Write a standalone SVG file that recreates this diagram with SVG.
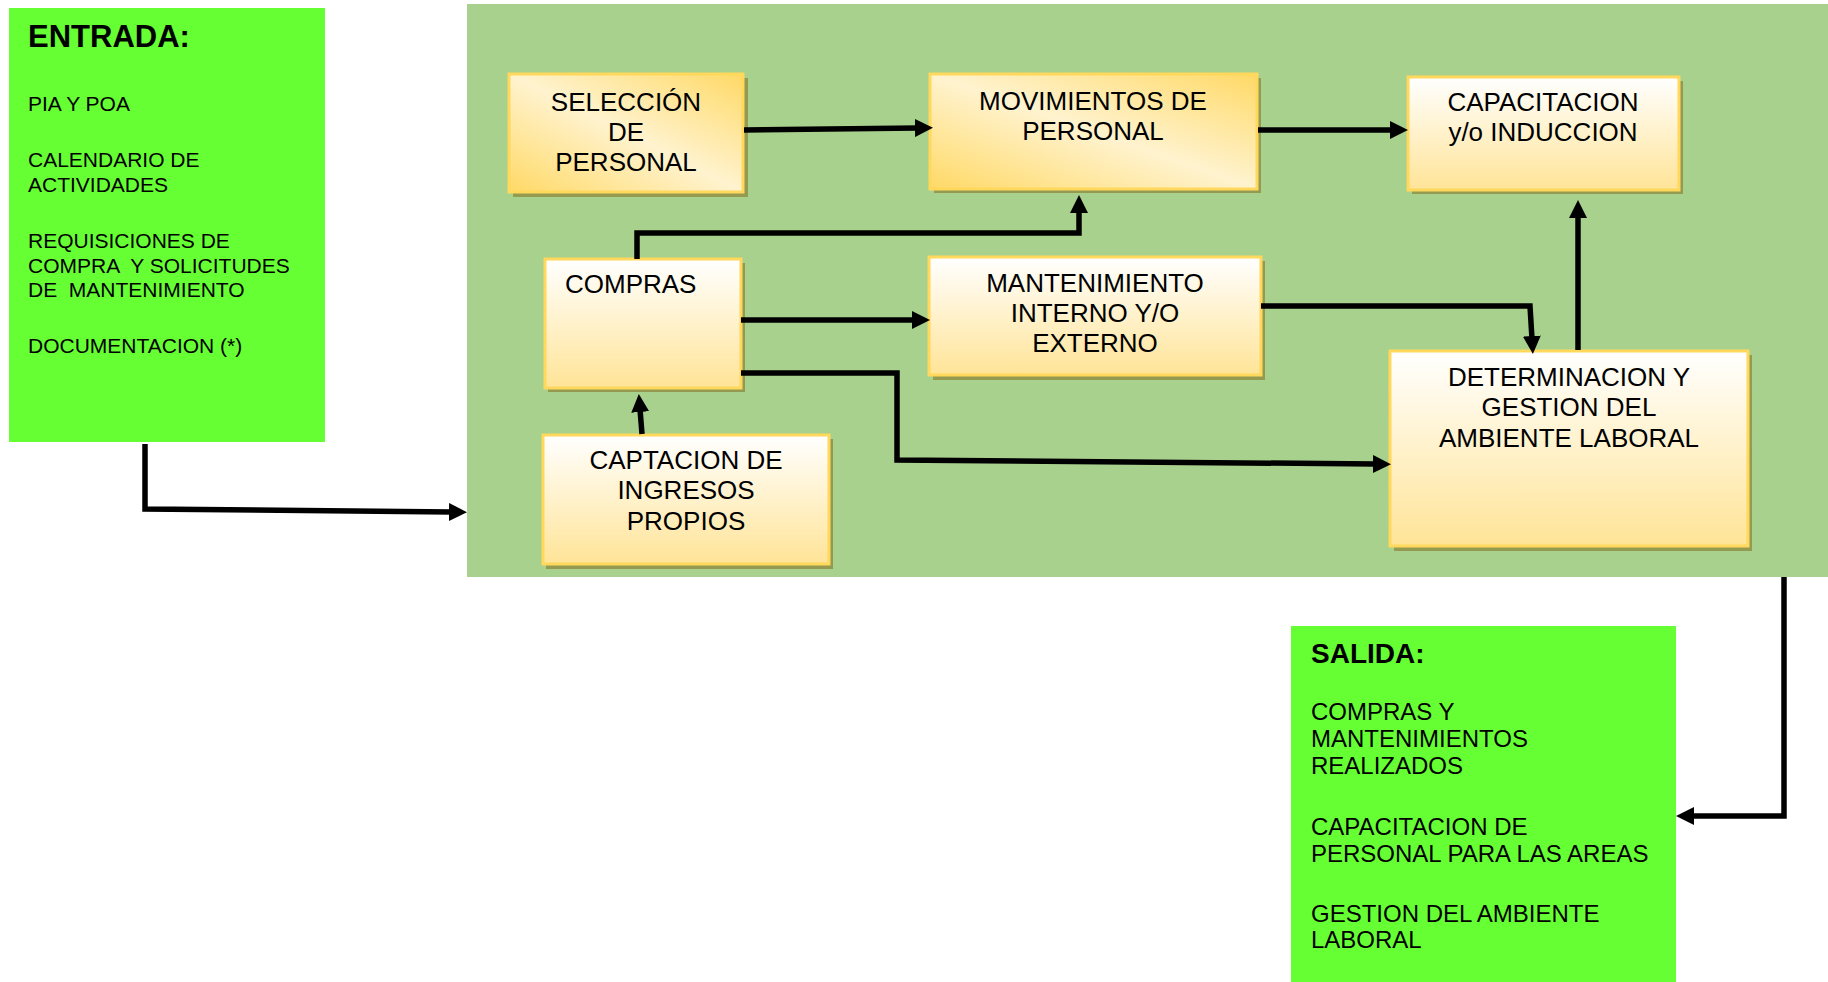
<svg xmlns="http://www.w3.org/2000/svg" width="1828" height="982" viewBox="0 0 1828 982">
<defs>
<linearGradient id="gDiag" x1="0" y1="1" x2="1" y2="0">
<stop offset="0" stop-color="#ffd966"/>
<stop offset="0.5" stop-color="#fff3cf"/>
<stop offset="1" stop-color="#ffd966"/>
</linearGradient>
<linearGradient id="gVert" x1="0" y1="0" x2="0" y2="1">
<stop offset="0" stop-color="#ffffff"/>
<stop offset="1" stop-color="#ffe497"/>
</linearGradient>
<marker id="arr" viewBox="0 0 18 18" markerWidth="18" markerHeight="18" markerUnits="userSpaceOnUse" refX="3" refY="9" orient="auto">
<path d="M0,0 L18,9 L0,18 z" fill="#000"/>
</marker>
</defs>
<style>
.io{fill:#66ff33}
.bg{fill:#a9d18e}
.sh{fill:#949a50}
.bx{stroke:#ffd85c;stroke-width:3}
.d{fill:url(#gDiag)}
.v{fill:url(#gVert)}
.t{font-family:"Liberation Sans",Arial,sans-serif;font-size:26px;fill:#000;text-anchor:middle}
.l{font-family:"Liberation Sans",Arial,sans-serif;font-size:21px;fill:#000;white-space:pre}
.r{font-family:"Liberation Sans",Arial,sans-serif;font-size:24px;fill:#000;white-space:pre}
.h{font-family:"Liberation Sans",Arial,sans-serif;font-weight:bold;fill:#000}
.c{fill:none;stroke:#000;stroke-width:5.5;stroke-linejoin:miter;marker-end:url(#arr)}
</style>
<rect width="1828" height="982" fill="#ffffff"/>
<rect id="proceso" class="bg" x="467" y="4" width="1361" height="573"/>

<g id="entrada">
<rect class="io" x="9" y="8" width="316" height="434"/>
<text class="h" x="28" y="47" font-size="31">ENTRADA:</text>
<text class="l" x="28" y="111">PIA Y POA</text>
<text class="l" x="28" y="167">CALENDARIO DE</text>
<text class="l" x="28" y="192">ACTIVIDADES</text>
<text class="l" x="28" y="248">REQUISICIONES DE</text>
<text class="l" x="28" y="273">COMPRA  Y SOLICITUDES</text>
<text class="l" x="28" y="297">DE  MANTENIMIENTO</text>
<text class="l" x="28" y="353">DOCUMENTACION (*)</text>
</g>

<g id="salida">
<rect class="io" x="1291" y="626" width="385" height="356"/>
<text class="h" x="1311" y="663" font-size="28">SALIDA:</text>
<text class="r" x="1311" y="720">COMPRAS Y</text>
<text class="r" x="1311" y="747">MANTENIMIENTOS</text>
<text class="r" x="1311" y="774">REALIZADOS</text>
<text class="r" x="1311" y="835">CAPACITACION DE</text>
<text class="r" x="1311" y="862">PERSONAL PARA LAS AREAS</text>
<text class="r" x="1311" y="922">GESTION DEL AMBIENTE</text>
<text class="r" x="1311" y="948">LABORAL</text>
</g>

<g id="seleccion">
<rect class="sh" x="513" y="78" width="235" height="119"/>
<rect class="bx d" x="509" y="74" width="234" height="118"/>
<text class="t" x="626" y="111">SELECCIÓN</text>
<text class="t" x="626" y="141">DE</text>
<text class="t" x="626" y="171">PERSONAL</text>
</g>

<g id="movimientos">
<rect class="sh" x="934" y="78" width="327" height="115"/>
<rect class="bx d" x="930" y="74" width="327" height="115"/>
<text class="t" x="1093" y="110">MOVIMIENTOS DE</text>
<text class="t" x="1093" y="140">PERSONAL</text>
</g>

<g id="capacitacion">
<rect class="sh" x="1412" y="81" width="271" height="113"/>
<rect class="bx v" x="1408" y="77" width="271" height="113"/>
<text class="t" x="1543" y="111">CAPACITACION</text>
<text class="t" x="1543" y="141">y/o INDUCCION</text>
</g>

<g id="compras">
<rect class="sh" x="548" y="263" width="197" height="129"/>
<rect class="bx v" x="545" y="259" width="196" height="129"/>
<text class="t" x="565" y="293" style="text-anchor:start">COMPRAS</text>
</g>

<g id="mantenimiento">
<rect class="sh" x="933" y="261" width="332" height="119"/>
<rect class="bx v" x="929" y="257" width="332" height="118"/>
<text class="t" x="1095" y="292">MANTENIMIENTO</text>
<text class="t" x="1095" y="322">INTERNO Y/O</text>
<text class="t" x="1095" y="352">EXTERNO</text>
</g>

<g id="captacion">
<rect class="sh" x="546" y="439" width="287" height="130"/>
<rect class="bx v" x="543" y="435" width="286" height="129"/>
<text class="t" x="686" y="469">CAPTACION DE</text>
<text class="t" x="686" y="499">INGRESOS</text>
<text class="t" x="686" y="530">PROPIOS</text>
</g>

<g id="determinacion">
<rect class="sh" x="1394" y="355" width="358" height="196"/>
<rect class="bx v" x="1390" y="351" width="358" height="195"/>
<text class="t" x="1569" y="386">DETERMINACION Y</text>
<text class="t" x="1569" y="416">GESTION DEL</text>
<text class="t" x="1569" y="447">AMBIENTE LABORAL</text>
</g>

<g id="conectores">
<path class="c" d="M145,444 V509 L452,512"/>
<path class="c" d="M744,130 L918,128"/>
<path class="c" d="M1258,130 L1393,130"/>
<path class="c" d="M637,259 V233 H1079 V210"/>
<path class="c" d="M741,320 H915"/>
<path class="c" d="M741,373 H897 V460 L1376,464"/>
<path class="c" d="M642,434 L640,409"/>
<path class="c" d="M1261,306 H1530 L1532,339"/>
<path class="c" d="M1578,350 V215"/>
<path class="c" d="M1784,577 V816 H1691"/>
</g>
</svg>
